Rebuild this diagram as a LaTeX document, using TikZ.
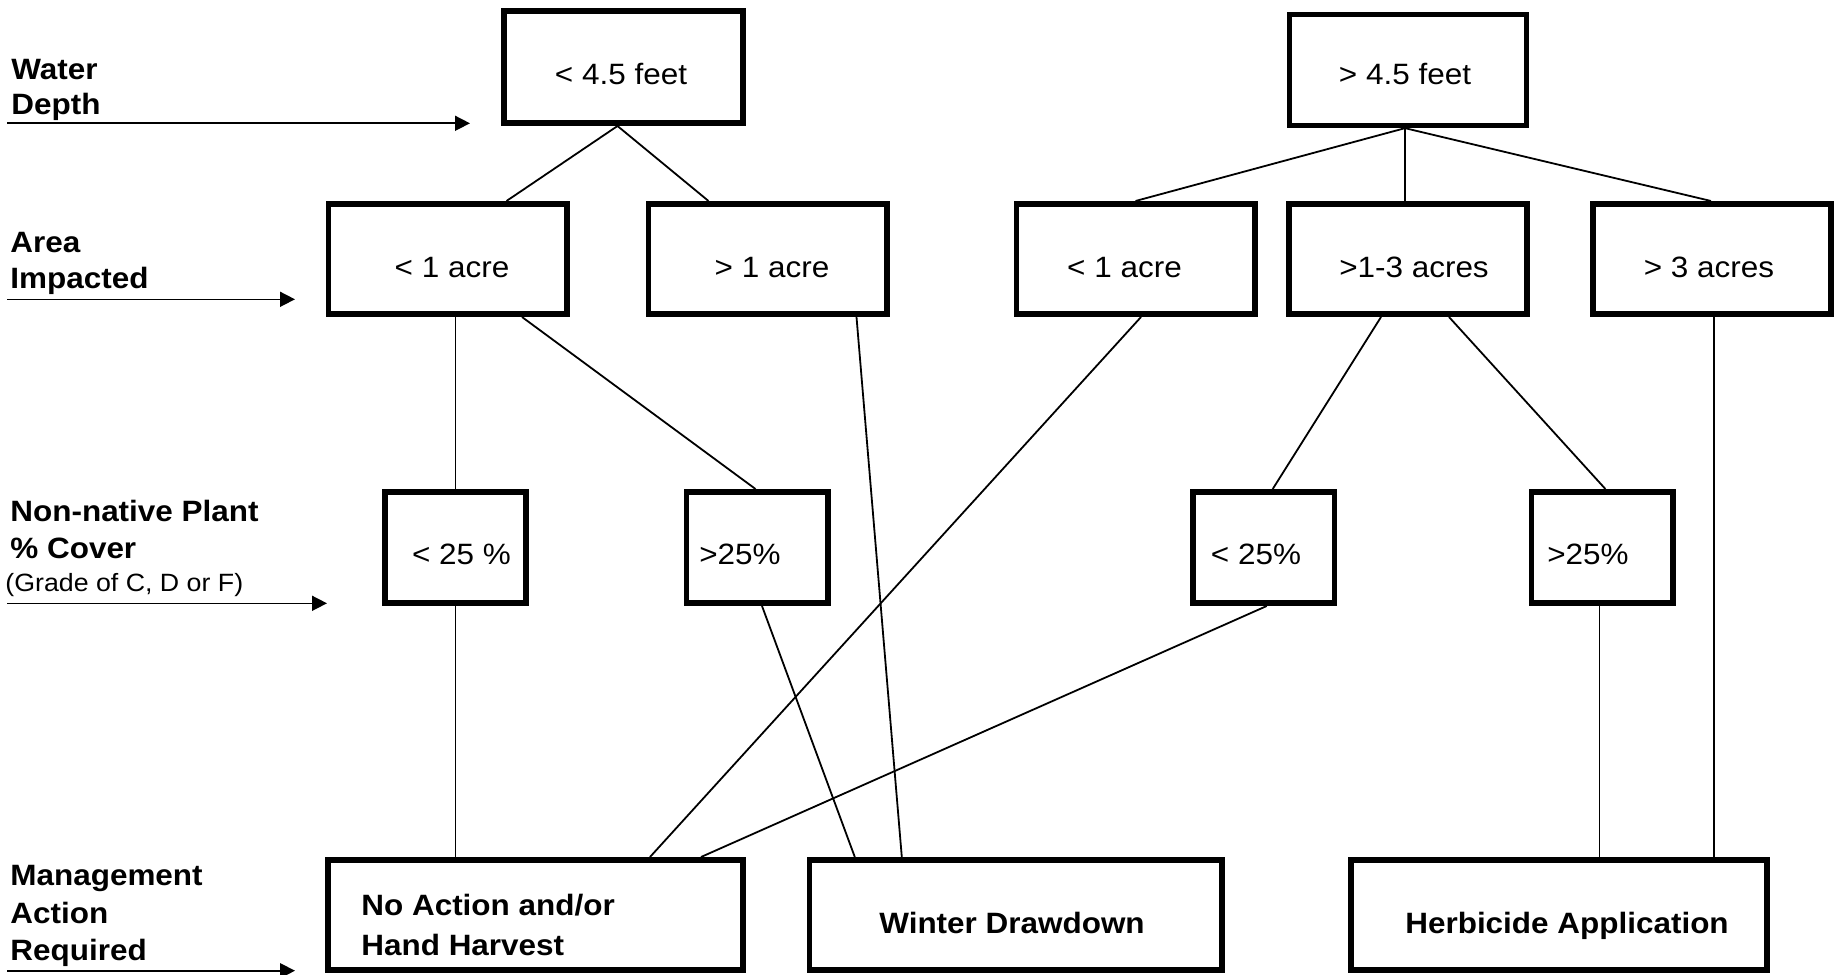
\documentclass[tikz,border=0pt]{standalone}
\usepackage{fontspec}
\setmainfont[FakeStretch=1.07]{Liberation Sans}
\usetikzlibrary{arrows.meta,calc}
\begin{document}
\begin{tikzpicture}[x=0.5pt,y=-0.5pt,
  box/.style={draw=black, line width=2.8pt, rectangle, inner sep=0pt, fill=white},
  toprow/.style={box, minimum height=55.5pt},
  arearow/.style={box, minimum width=119.2pt, minimum height=55.2pt},
  coverrow/.style={box, minimum width=70.7pt, minimum height=55.7pt},
  actrow/.style={box, minimum height=55.2pt},
  txt/.style={inner sep=0pt, anchor=base, font=\fontsize{14.7pt}{17pt}\selectfont},
  btxt/.style={inner sep=0pt, anchor=base, font=\fontsize{14.7pt}{17pt}\selectfont\bfseries},
  hdr/.style={inner sep=0pt, anchor=base west, font=\fontsize{14.7pt}{17pt}\selectfont\bfseries},
  subhdr/.style={inner sep=0pt, anchor=base west, font=\fontsize{12.5pt}{14pt}\selectfont},
  link/.style={line width=0.9pt, draw=black},
  pointer/.style={line width=0.8pt, draw=black, -{Triangle[length=7.5pt,width=7.5pt]}}
]
\useasboundingbox (0,0) rectangle (1835,974);

% ---- boxes ----
\node[toprow, minimum width=119.7pt, minimum height=56.2pt] (b1) at (623.5,67) {};
\node[toprow, minimum width=118.45pt, minimum height=55.35pt] (b2) at (1408,70) {};

\node[arearow] (a1) at (447.5,259) {};
\node[arearow] (a2) at (767.5,259) {};
\node[arearow] (a3) at (1135.5,259) {};
\node[arearow] (a4) at (1408,259) {};
\node[arearow] (a5) at (1712,259) {};

\node[coverrow] (c1) at (455.4,547.5) {};
\node[coverrow] (c2) at (757,547.5) {};
\node[coverrow] (c3) at (1263.7,547.5) {};
\node[coverrow] (c4) at (1602,547.5) {};

\node[actrow, minimum width=207.7pt] (d1) at (535.5,915) {};
\node[actrow, minimum width=206.45pt] (d2) at (1015.8,915) {};
\node[actrow, minimum width=208.2pt] (d3) at (1559,915) {};

% ---- connectors ----
\draw[link] ($(b1.south)+(-6,0)$) -- ($(a1.north)+(59,0)$);
\draw[link] ($(b1.south)+(-6,0)$) -- ($(a2.north)+(-59,0)$);
\draw[link] ($(b2.south)+(-3,0)$) -- (a3.north);
\draw[link] ($(b2.south)+(-3,0)$) -- ($(a4.north)+(-3,0)$);
\draw[link] ($(b2.south)+(-3,0)$) -- ($(a5.north)+(-1,0)$);

\draw[link] (c1.north |- a1.south) -- (c1.north);
\draw[link] ($(a1.south)+(74.5,0)$) -- ($(c2.north)+(-1.5,0)$);
\draw[link] ($(a2.south)+(89,0)$) -- ($(d2.north)+(-114,0)$);
\draw[link] ($(a3.south)+(5.5,0)$) -- ($(d1.north)+(114.5,0)$);
\draw[link] ($(a4.south)+(-27,0)$) -- ($(c3.north)+(9,0)$);
\draw[link] ($(a4.south)+(41,0)$) -- ($(c4.north)+(3.4,0)$);
\draw[link] ($(a5.south)+(2,0)$) -- ($(d3.north)+(155,0)$);

\draw[link] (c1.south) -- (c1.south |- d1.north);
\draw[link] ($(c2.south)+(5,0)$) -- ($(d2.north)+(-161,0)$);
\draw[link] ($(c3.south)+(3,0)$) -- ($(d1.north)+(165.5,0)$);
\draw[link] ($(c4.south)+(-2.5,0)$) -- ($(d3.north)+(40.5,0)$);

% ---- box texts ----
\node[txt] (tb1) at (621,85) {< 4.5 feet};
\node[txt] (tb2) at (1405,85) {> 4.5 feet};
\node[txt] (ta1) at (452,277) {< 1 acre};
\node[txt] (ta2) at (772,277) {> 1 acre};
\node[txt] (ta3) at (1124.5,277) {< 1 acre};
\node[txt] (ta4) at (1414,277) {>1-3 acres};
\node[txt] (ta5) at (1709,277) {> 3 acres};
\node[txt] (tc1) at (461.5,564) {< 25 \%};
\node[txt] (tc2) at (740,564) {>25\%};
\node[txt] (tc3) at (1256,564) {< 25\%};
\node[txt] (tc4) at (1588,564) {>25\%};
\node[hdr] (td1a) at (361,915) {No Action and/or};
\node[hdr] (td1b) at (361,955) {Hand Harvest};
\node[btxt] (td2) at (1012,933) {Winter Drawdown};
\node[btxt] (td3) at (1567,933) {Herbicide Application};

% ---- row labels ----
\node[hdr] (lw1) at (11,80) {Water};
\node[hdr] (lw2) at (11,115) {Depth};
\node[hdr] (la1) at (10,252) {Area};
\node[hdr] (la2) at (10,288) {Impacted};
\node[hdr] (ln1) at (10,521.7) {Non-native Plant};
\node[hdr] (ln2) at (10,558) {\% Cover};
\node[subhdr] (ln3) at (5,591.7) {(Grade of C, D or F)};
\node[hdr] (lm1) at (10,885) {Management};
\node[hdr] (lm2) at (10,923) {Action};
\node[hdr] (lm3) at (10,960) {Required};

% ---- row arrows ----
\coordinate (w0) at (7,123.3);
\coordinate (w1) at (470,123.3);
\coordinate (i0) at (7,299.3);
\coordinate (i1) at (295,299.3);
\coordinate (n0) at (7,603.3);
\coordinate (n1) at (327,603.3);
\coordinate (m0) at (7,970.7);
\coordinate (m1) at (295,970.7);
\draw[pointer] (w0) -- (w1);
\draw[pointer] (i0) -- (i1);
\draw[pointer] (n0) -- (n1);
\draw[pointer] (m0) -- (m1);
\end{tikzpicture}
\end{document}
